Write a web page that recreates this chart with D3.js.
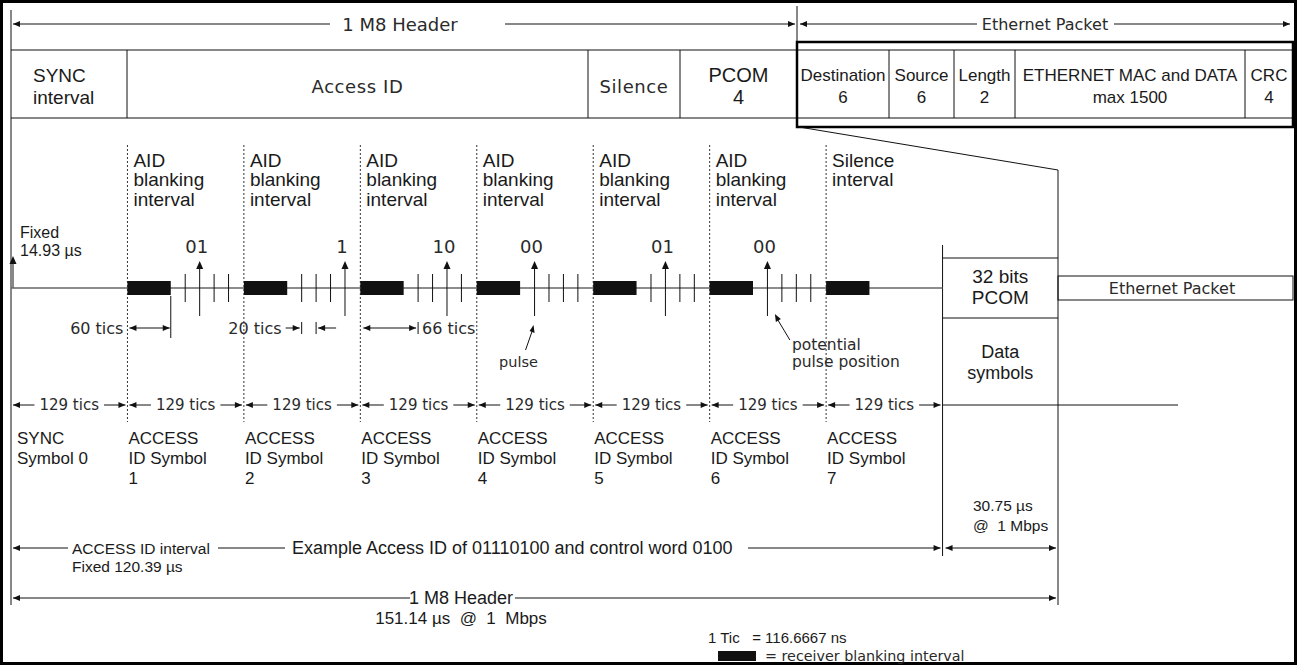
<!DOCTYPE html>
<html><head><meta charset="utf-8">
<script src="https://cdn.jsdelivr.net/npm/d3@7"></script>
<style>
body{margin:0;background:#fff}
svg{display:block}
text{font-family:"Liberation Sans",Arial,sans-serif;fill:#1a1a1a;white-space:pre}
text.geo{font-family:"DejaVu Sans",sans-serif;fill:#2a2a2a}
</style>
</head><body>
<svg id="c" width="1297" height="665"></svg>
<script>
// ---------------- data ----------------
const ticsPerSymbol = 129;
const symbolSlots = 9;            // SYNC, 7 AID symbols, PCOM slot
const blankTics = 48;             // drawn width of the receiver blanking interval
const slotTics = [64, 80, 96, 112];   // potential pulse positions within a symbol
const topLabels = ["", "AID|blanking|interval", "AID|blanking|interval", "AID|blanking|interval",
  "AID|blanking|interval", "AID|blanking|interval", "AID|blanking|interval", "Silence|interval"];
const bitLabels = ["", "01", "1", "10", "00", "01", "00", ""];
const pulseSlot = [null, 1, 3, 2, 0, 1, 0, null];
const symbolNames = ["SYNC|Symbol 0", "ACCESS|ID Symbol|1", "ACCESS|ID Symbol|2", "ACCESS|ID Symbol|3",
  "ACCESS|ID Symbol|4", "ACCESS|ID Symbol|5", "ACCESS|ID Symbol|6", "ACCESS|ID Symbol|7"];
const symbolTicLabel = "129 tics";
const headerFields = ["SYNC|interval", "Access ID", "Silence", "PCOM|4"];
const ethernetFields = ["Destination|6", "Source|6", "Length|2", "ETHERNET MAC and DATA|max 1500", "CRC|4"];

// ---------------- layout ----------------
const svg = d3.select("#c");
const x = d3.scaleLinear().domain([0, ticsPerSymbol * symbolSlots]).range([11, 1059]);
const headerEdges = [11, 127, 588, 680, 797];
const ethEdges = [797, 889, 954, 1015, 1245, 1293];
const Y = {top: 24, hTop: 50, hBot: 118, sig: 288, dim: 328, tic129: 405, acc: 438, row1: 548, row2: 598};

svg.append("rect").attr("x", 1.5).attr("y", 1.5).attr("width", 1294).attr("height", 662)
  .attr("fill", "none").attr("stroke", "#000").attr("stroke-width", 3);

function line(x1, y1, x2, y2, opt = {}) {
  return svg.append("line").attr("x1", x1).attr("y1", y1).attr("x2", x2).attr("y2", y2)
    .attr("stroke", opt.color || "#111").attr("stroke-width", opt.w || 1)
    .attr("stroke-dasharray", opt.dash || null);
}
function head(px, py, dir, s = 7, w = 3) {
  let p;
  if (dir === "r") p = [[px, py], [px - s, py - w], [px - s, py + w]];
  if (dir === "l") p = [[px, py], [px + s, py - w], [px + s, py + w]];
  if (dir === "u") p = [[px, py], [px - w, py + s], [px + w, py + s]];
  svg.append("path").attr("d", "M" + p.map(d => d.join(",")).join("L") + "Z").attr("fill", "#111");
}
function text(str, tx, ty, opt = {}) {
  const t = svg.append("text").attr("x", tx).attr("y", ty)
    .attr("font-size", opt.size || 16).attr("text-anchor", opt.anchor || "start")
    .attr("dominant-baseline", "central").attr("xml:space", "preserve").text(str);
  if (opt.geo) t.attr("class", "geo");
  if (opt.ls) t.attr("letter-spacing", opt.ls);
  return t;
}
function multi(str, tx, ty, lh, opt) {
  str.split("|").forEach((s, i) => text(s, tx, ty + i * lh, opt));
}

// ---- top dimension arrows ----
line(11, 10, 11, 605);
line(13, Y.top, 330, Y.top); head(13, Y.top, "l");
text("1 M8 Header", 400, Y.top, {size: 18, anchor: "middle", geo: true});
line(505, Y.top, 795, Y.top); head(795, Y.top, "r");
line(797, 6, 797, 42);
line(800, Y.top, 977, Y.top); head(800, Y.top, "l");
text("Ethernet Packet", 1045, Y.top, {size: 16, anchor: "middle", geo: true});
line(1114, Y.top, 1290, Y.top); head(1290, Y.top, "r");

// ---- header row ----
line(11, Y.hTop, 1293, Y.hTop);
line(11, Y.hBot, 1293, Y.hBot);
headerEdges.slice(1).forEach(e => line(e, Y.hTop, e, Y.hBot));
headerFields.forEach((f, i) => {
  const parts = f.split("|");
  if (i === 0) multi(f, 33, 75, 22, {size: 19});
  else if (parts.length === 1) text(f, (headerEdges[i] + headerEdges[i + 1]) / 2, 86, {size: 18, anchor: "middle", geo: true, ls: 0.6});
  else multi(f, (headerEdges[i] + headerEdges[i + 1]) / 2, 75, 22, {size: 20, anchor: "middle"});
});
ethEdges.slice(1, -1).forEach(e => line(e, Y.hTop, e, Y.hBot));
ethernetFields.forEach((f, i) => multi(f, (ethEdges[i] + ethEdges[i + 1]) / 2, 75, 22, {size: 17, anchor: "middle"}));
svg.append("rect").attr("x", 797).attr("y", 42).attr("width", 496).attr("height", 85)
  .attr("fill", "none").attr("stroke", "#000").attr("stroke-width", 2.5);
line(799, 127, 1058, 170);
line(1058, 170, 1058, 605);

// ---- symbol boundaries ----
for (let i = 1; i <= 7; i++) line(x(i * ticsPerSymbol), 145, x(i * ticsPerSymbol), 422, {dash: "2,2", color: "#333"});
const pcomL = x(8 * ticsPerSymbol);
line(pcomL, 245, pcomL, 556);

// labels above
topLabels.forEach((l, i) => { if (l) multi(l, x(i * ticsPerSymbol) + 6, 160, 19.5, {size: 19}); });
multi("Fixed|14.93 µs", 20, 232, 18, {size: 16});
line(13, 262, 13, Y.sig); head(13, 256, "u", 8, 3.5);

// signal line
line(11, Y.sig, pcomL, Y.sig, {color: "#666", w: 1.5});
for (let i = 1; i <= 7; i++) {
  const s = i * ticsPerSymbol;
  svg.append("rect").attr("x", x(s)).attr("y", Y.sig - 7).attr("width", x(s + blankTics) - x(s)).attr("height", 14).attr("fill", "#111");
  if (pulseSlot[i] === null) continue;
  slotTics.forEach((t, k) => {
    const px = x(s + t);
    if (k === pulseSlot[i]) {
      line(px, 316, px, 266); head(px, 261, "u", 8, 3.5);
      text(bitLabels[i], px - 3, 246, {size: 18, anchor: "middle", geo: true});
    } else line(px, 274, px, 302);
  });
}

// dimension annotations
const s1 = ticsPerSymbol, s2 = 2 * ticsPerSymbol, s3 = 3 * ticsPerSymbol;
text("60 tics", x(s1) - 4, Y.dim, {size: 16, anchor: "end", geo: true});
line(x(s1) + 2, Y.dim, x(s1 + blankTics) - 1, Y.dim); head(x(s1) + 2, Y.dim, "l"); head(x(s1 + blankTics) - 1, Y.dim, "r");
line(x(s1 + blankTics), 296, x(s1 + blankTics), 338);
text("20 tics", x(s2 + slotTics[0]) - 20, Y.dim, {size: 16, anchor: "end", geo: true});
line(x(s2 + slotTics[0]) - 16, Y.dim, x(s2 + slotTics[0]) - 2, Y.dim); head(x(s2 + slotTics[0]) - 2, Y.dim, "r");
line(x(s2 + slotTics[0]), Y.dim - 6, x(s2 + slotTics[0]), Y.dim + 6);
line(x(s2 + slotTics[1]), Y.dim - 6, x(s2 + slotTics[1]), Y.dim + 6);
line(x(s2 + slotTics[1]) + 2, Y.dim, x(s2 + slotTics[1]) + 20, Y.dim); head(x(s2 + slotTics[1]) + 2, Y.dim, "l");
line(x(s3) + 3, Y.dim, x(s3 + slotTics[0]) - 2, Y.dim); head(x(s3) + 3, Y.dim, "l"); head(x(s3 + slotTics[0]) - 2, Y.dim, "r");
line(x(s3 + slotTics[0]), Y.dim - 6, x(s3 + slotTics[0]), Y.dim + 6);
text("66 tics", x(s3 + slotTics[0]) + 4, Y.dim, {size: 16, geo: true});
const p4 = x(4 * ticsPerSymbol + slotTics[0]);
line(p4 - 9, 350, p4 - 2, 330);
svg.append("path").attr("d", `M${p4 - 1},325L${p4 - 5},331L${p4},333Z`).attr("fill", "#111");
text("pulse", p4 - 16, 362, {size: 14.5, anchor: "middle", geo: true});
const p6 = x(6 * ticsPerSymbol + slotTics[1]);
line(p6 - 4, 320, p6 + 8, 340);
svg.append("path").attr("d", `M${p6 - 7},314L${p6 - 6},322L${p6 - 1},319Z`).attr("fill", "#111");
multi("potential|pulse position", p6 + 10, 345, 17, {size: 15.5, geo: true});

// 129 tics row
for (let i = 0; i < 8; i++) {
  const a = x(i * ticsPerSymbol) + 2, b = x((i + 1) * ticsPerSymbol) - 2, m = (a + b) / 2;
  const t = text(symbolTicLabel, m, Y.tic129, {size: 15, anchor: "middle", geo: true});
  const w = t.node().getComputedTextLength();
  line(a, Y.tic129, m - w / 2 - 5, Y.tic129); head(a, Y.tic129, "l");
  line(m + w / 2 + 5, Y.tic129, b, Y.tic129); head(b, Y.tic129, "r");
}
line(pcomL, Y.tic129, 1178, Y.tic129);

// symbol names
symbolNames.forEach((n, i) => multi(n, x(i * ticsPerSymbol) + (i === 0 ? 6 : 1), Y.acc, 20, {size: 17}));

// PCOM and Ethernet boxes
line(pcomL, 258, 1058, 258);
line(pcomL, 318, 1058, 318);
multi("32 bits|PCOM", (pcomL + 1058) / 2, 276, 21, {size: 19, anchor: "middle"});
svg.append("rect").attr("x", 1058).attr("y", 276).attr("width", 235).attr("height", 24).attr("fill", "none").attr("stroke", "#111");
text("Ethernet Packet", 1172, 288, {size: 16, anchor: "middle", geo: true});
multi("Data|symbols", (pcomL + 1058) / 2, 352, 21, {size: 18, anchor: "middle"});
text("30.75 µs", 973, 505, {size: 15.5});
text("@  1 Mbps", 973, 525, {size: 15.5});

// bottom rows
line(13, Y.row1, 68, Y.row1); head(13, Y.row1, "l");
multi("ACCESS ID interval|Fixed 120.39 µs", 72, Y.row1, 18, {size: 15.5});
line(218, Y.row1, 285, Y.row1);
text("Example Access ID of 01110100 and control word 0100", 292, Y.row1, {size: 18});
line(748, Y.row1, pcomL - 2, Y.row1); head(pcomL - 2, Y.row1, "r");
line(pcomL + 3, Y.row1, 1056, Y.row1); head(pcomL + 3, Y.row1, "l"); head(1056, Y.row1, "r");

line(13, Y.row2, 410, Y.row2); head(13, Y.row2, "l");
text("1 M8 Header", 461, Y.row2, {size: 18, anchor: "middle"});
text("151.14 µs  @  1  Mbps", 461, Y.row2 + 20, {size: 17, anchor: "middle"});
line(515, Y.row2, 1056, Y.row2); head(1056, Y.row2, "r");

text("1 Tic   = 116.6667 ns", 708, 637, {size: 15});
svg.append("rect").attr("x", 718).attr("y", 651).attr("width", 38).attr("height", 10).attr("fill", "#111");
text("= receiver blanking interval", 765, 656, {size: 14.3, geo: true});
</script>
</body></html>
